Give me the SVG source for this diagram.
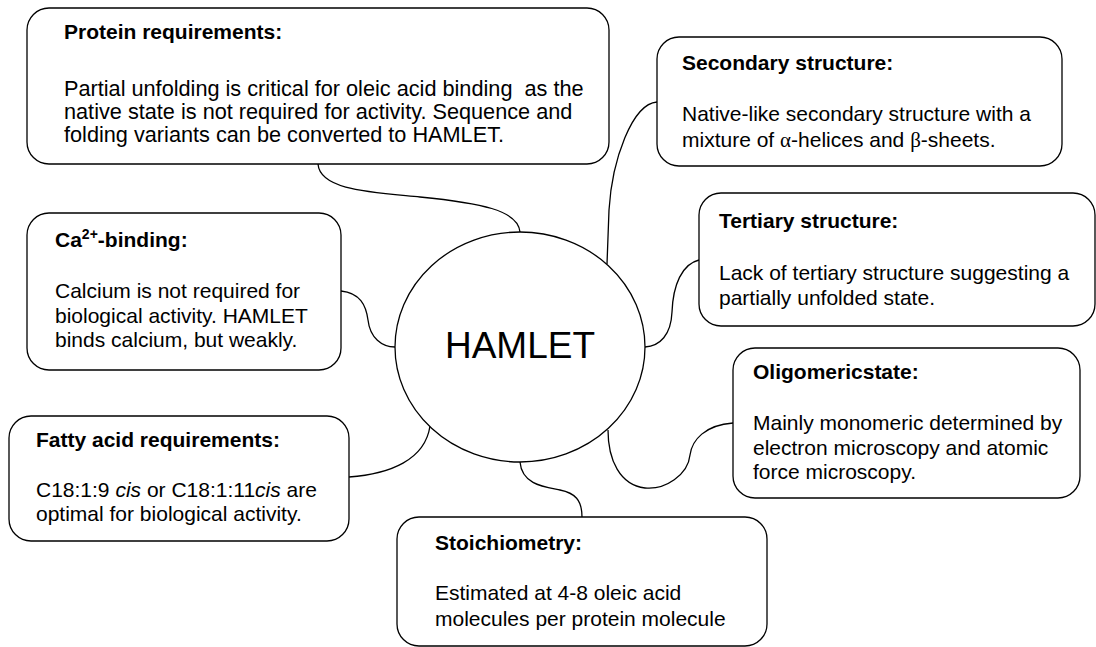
<svg xmlns="http://www.w3.org/2000/svg" width="1096" height="647" viewBox="0 0 1096 647">
<style>
.box{fill:#fff;stroke:#000;stroke-width:1.3}
.con{fill:none;stroke:#000;stroke-width:1.3}
text{font-family:"Liberation Sans",Arial,sans-serif;font-size:21px;fill:#000}
.t{font-weight:bold}
.b22{font-size:21.7px}
.g{font-family:"Liberation Serif","Times New Roman",serif}
</style>
<rect width="1096" height="647" fill="#fff"/>
<g id="connectors">
<path class="con" d="M318,164 C320,190 370,192 420,197 C480,203 518,210 520,232"/>
<path class="con" d="M657,102 C632,104 612,160 609,210 L607,264"/>
<path class="con" d="M699,260 C682,264 673,285 672,312 C671,335 660,346 645,347"/>
<path class="con" d="M733,423 C705,425 692,440 690,455 C688,475 665,490 645,488 C620,485 608,460 608,430"/>
<path class="con" d="M520,462 C522,485 545,487 560,490 C575,493 582,500 582,517"/>
<path class="con" d="M341,291 C360,293 366,305 368,320 C370,338 382,347 395,347"/>
<path class="con" d="M349,477 C390,474 425,460 430,426"/>
</g>
<g id="hamlet">
<ellipse class="box" cx="520" cy="347" rx="125" ry="115"/>
<text x="520" y="358" text-anchor="middle" style="font-size:37px">HAMLET</text>
</g>
<g id="protein">
<rect class="box" x="27" y="8" width="582" height="156" rx="22"/>
<text class="t" x="64" y="39">Protein requirements:</text>
<text class="b22" x="64" y="96" xml:space="preserve">Partial unfolding is critical for oleic acid binding  as the</text>
<text class="b22" x="64" y="119">native state is not required for activity. Sequence and</text>
<text class="b22" x="64" y="142">folding variants can be converted to HAMLET.</text>
</g>
<g id="secondary">
<rect class="box" x="657" y="37" width="405" height="129" rx="22"/>
<text class="t" x="682" y="70">Secondary structure:</text>
<text x="682" y="121">Native-like secondary structure with a</text>
<text x="682" y="147">mixture of <tspan class="g">α</tspan>-helices and <tspan class="g">β</tspan>-sheets.</text>
</g>
<g id="tertiary">
<rect class="box" x="699" y="193" width="396" height="133" rx="22"/>
<text class="t" x="719" y="228">Tertiary structure:</text>
<text x="719" y="280">Lack of tertiary structure suggesting a</text>
<text x="719" y="305">partially unfolded state.</text>
</g>
<g id="calcium">
<rect class="box" x="27" y="213" width="314" height="157" rx="22"/>
<text class="t" x="55" y="247">Ca<tspan dy="-8" style="font-size:14px">2+</tspan><tspan dy="8">-binding:</tspan></text>
<text x="55" y="298">Calcium is not required for</text>
<text x="55" y="323">biological activity. HAMLET</text>
<text x="55" y="347">binds calcium, but weakly.</text>
</g>
<g id="oligomeric">
<rect class="box" x="733" y="348" width="347" height="150" rx="22"/>
<text class="t" x="753" y="379">Oligomericstate:</text>
<text x="753" y="430">Mainly monomeric determined by</text>
<text x="753" y="455">electron microscopy and atomic</text>
<text x="753" y="479">force microscopy.</text>
</g>
<g id="fatty">
<rect class="box" x="9" y="416" width="340" height="125" rx="22"/>
<text class="t" x="36" y="447">Fatty acid requirements:</text>
<text x="36" y="497">C18:1:9 <tspan font-style="italic">cis</tspan> or C18:1:11<tspan font-style="italic">cis</tspan> are</text>
<text x="36" y="521">optimal for biological activity.</text>
</g>
<g id="stoichiometry">
<rect class="box" x="397" y="517" width="370" height="129" rx="22"/>
<text class="t" x="435" y="550">Stoichiometry:</text>
<text x="435" y="600">Estimated at 4-8 oleic acid</text>
<text x="435" y="626">molecules per protein molecule</text>
</g>
</svg>
